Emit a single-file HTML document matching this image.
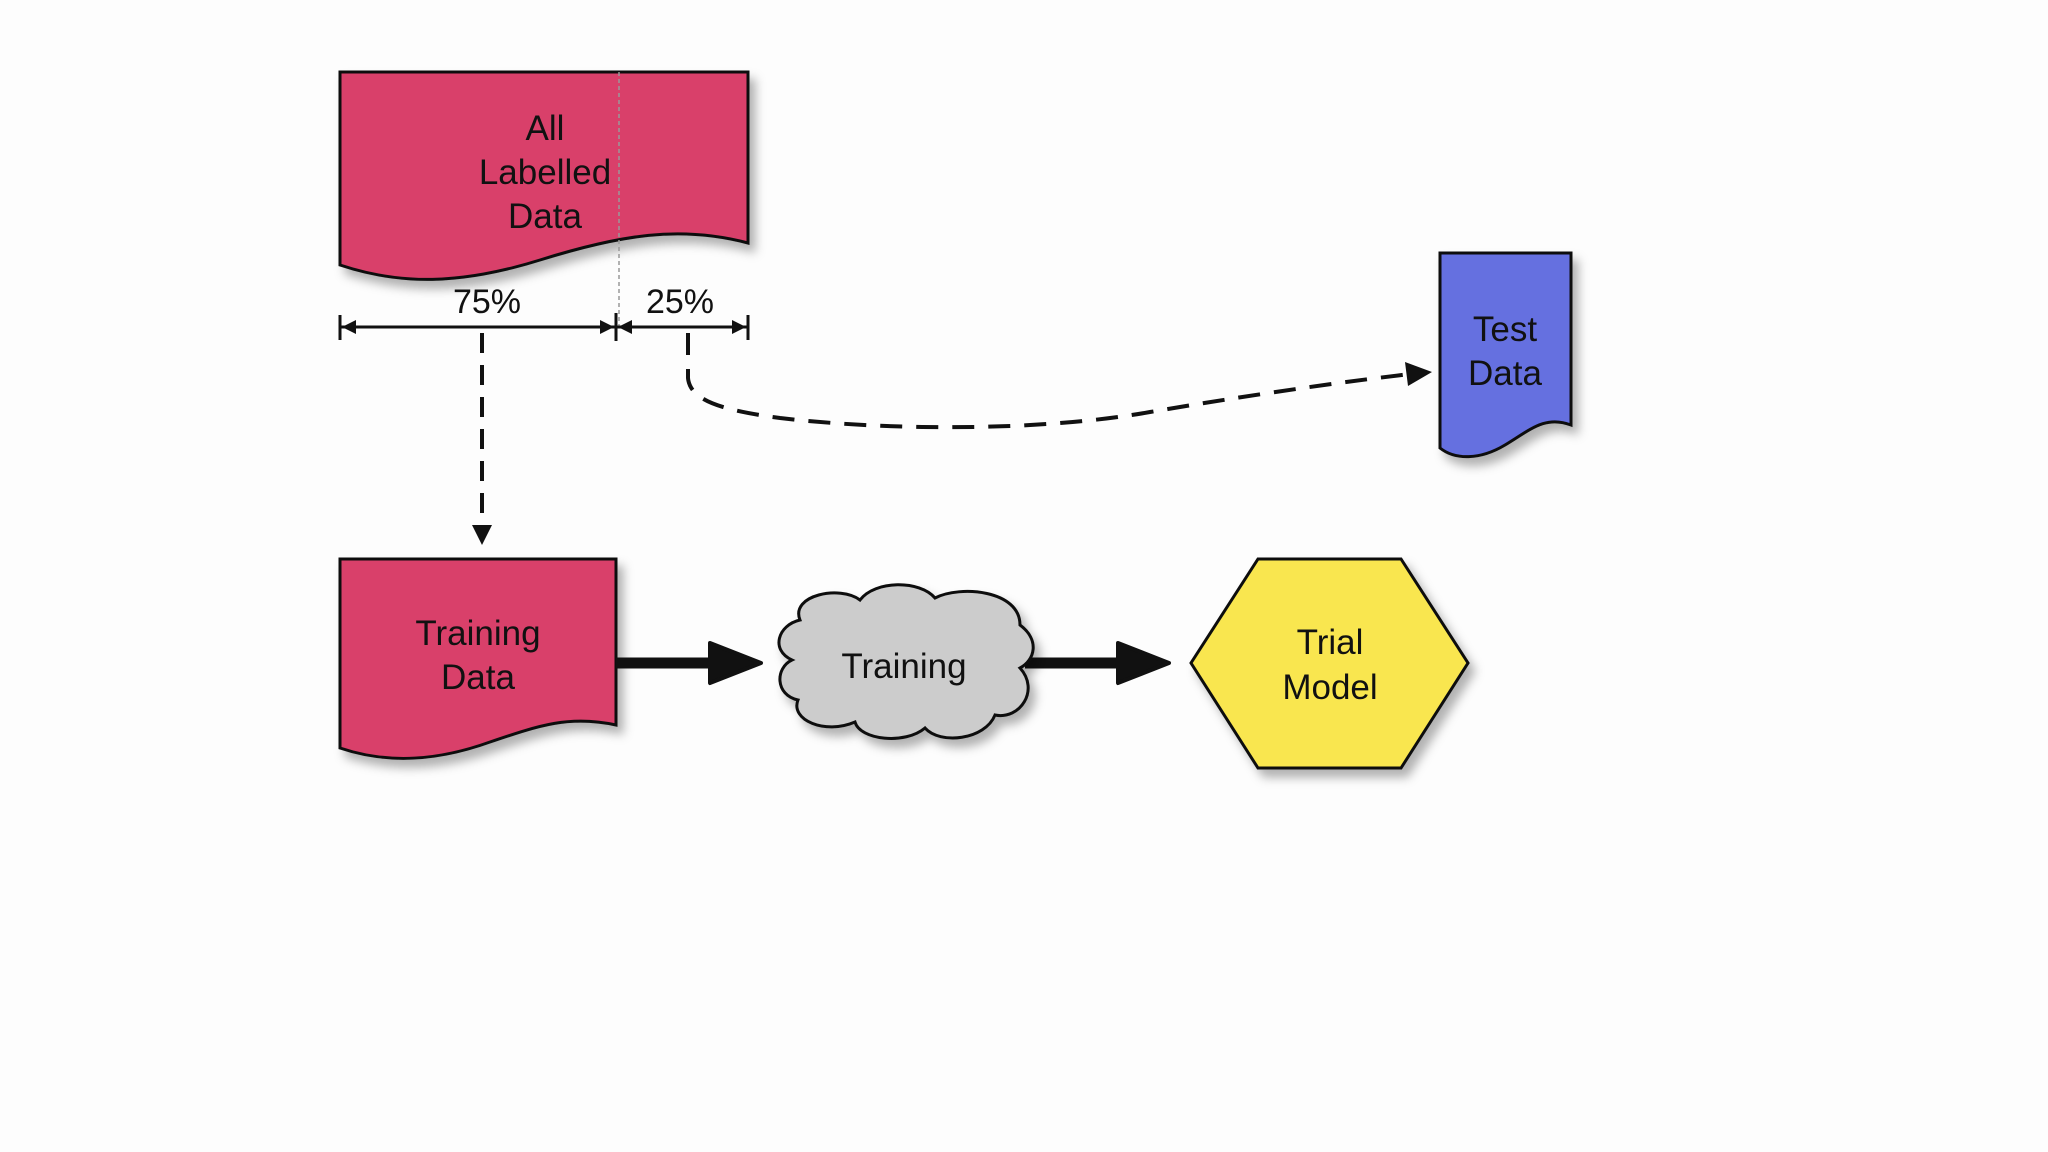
<!DOCTYPE html>
<html><head><style>
html,body{margin:0;padding:0;background:#fdfdfd;}
svg{display:block}
text{font-family:"Liberation Sans",sans-serif;font-size:35px;fill:#111;text-anchor:middle}
</style></head><body>
<svg width="2048" height="1152" viewBox="0 0 2048 1152">
<defs>
<filter id="sh" x="-10%" y="-10%" width="130%" height="130%">
<feDropShadow dx="6" dy="8" stdDeviation="5" flood-color="#000" flood-opacity="0.3"/>
</filter>
<marker id="ah" markerWidth="10" markerHeight="10" refX="8" refY="5" orient="auto" markerUnits="userSpaceOnUse" viewBox="0 0 10 10">
<path d="M0,0 L10,5 L0,10 z" fill="#000"/>
</marker>
</defs>
<!-- All labelled data -->
<path d="M340,72 H748 V243 C680,225 620,235 540,260 C460,285 400,285 340,265 Z" fill="#d9416a" stroke="#111" stroke-width="3" filter="url(#sh)"/>
<line x1="619" y1="72" x2="619" y2="327" stroke="#999" stroke-width="1.5" stroke-dasharray="4,3"/>
<text x="545" y="140">All</text>
<text x="545" y="184">Labelled</text>
<text x="545" y="228">Data</text>
<!-- dimension -->
<g stroke="#111" stroke-width="3">
<line x1="340" y1="327" x2="748" y2="327"/>
<line x1="340" y1="315" x2="340" y2="340"/>
<line x1="748" y1="315" x2="748" y2="340"/>
<line x1="616" y1="313" x2="616" y2="341"/>
</g>
<g fill="#111">
<path d="M342,327 l14,-7 v14z"/><path d="M746,327 l-14,-7 v14z"/>
<path d="M614,327 l-14,-7 v14z"/><path d="M618,327 l14,-7 v14z"/>
</g>
<text x="487" y="313" style="font-size:34px">75%</text>
<text x="680" y="313" style="font-size:34px">25%</text>
<!-- dashed arrows -->
<path d="M482,333 V530" stroke="#111" stroke-width="4" stroke-dasharray="20,12" fill="none"/>
<path d="M472,525 L492,525 L482,545 Z" fill="#111"/>
<path d="M688,333 V378 C690,400 720,410 780,418 C900,432 1050,430 1150,412 C1280,390 1360,380 1410,374" stroke="#111" stroke-width="4" stroke-dasharray="22,14" fill="none"/>
<path d="M1432,372 L1405,362 L1408,386 Z" fill="#111"/>
<!-- Test data -->
<path d="M1440,253 H1571 V425 C1545,415 1530,430 1505,445 C1480,460 1455,460 1440,448 Z" fill="#6570e0" stroke="#111" stroke-width="3" filter="url(#sh)"/>
<text x="1505" y="341">Test</text>
<text x="1505" y="385">Data</text>
<!-- Training data -->
<path d="M340,559 H616 V725 C570,715 540,725 490,742 C440,760 390,765 340,748 Z" fill="#d9416a" stroke="#111" stroke-width="3" filter="url(#sh)"/>
<text x="478" y="645">Training</text>
<text x="478" y="689">Data</text>
<!-- arrows -->
<line x1="616" y1="663" x2="720" y2="663" stroke="#111" stroke-width="11"/>
<path d="M710,643 L761,663 L710,683 Z" fill="#111" stroke="#111" stroke-width="4" stroke-linejoin="round"/>
<line x1="1025" y1="663" x2="1130" y2="663" stroke="#111" stroke-width="11"/>
<path d="M1118,643 L1169,663 L1118,683 Z" fill="#111" stroke="#111" stroke-width="4" stroke-linejoin="round"/>
<!-- cloud -->
<path d="M800,620 C790,595 840,585 860,600 C875,580 920,580 935,598 C960,585 1020,590 1020,625 C1040,640 1035,660 1020,668 C1040,690 1020,720 995,715 C985,740 940,745 925,728 C905,745 860,740 855,722 C825,735 790,720 798,700 C775,695 775,668 792,660 C770,650 778,625 800,620 Z" fill="#cccccc" stroke="#111" stroke-width="3" filter="url(#sh)"/>
<text x="904" y="678">Training</text>
<!-- hexagon -->
<path d="M1258,559 H1401 L1468,663 L1401,768 H1258 L1191,663 Z" fill="#f9e650" stroke="#111" stroke-width="3" filter="url(#sh)"/>
<text x="1330" y="654">Trial</text>
<text x="1330" y="699">Model</text>
</svg>
</body></html>
